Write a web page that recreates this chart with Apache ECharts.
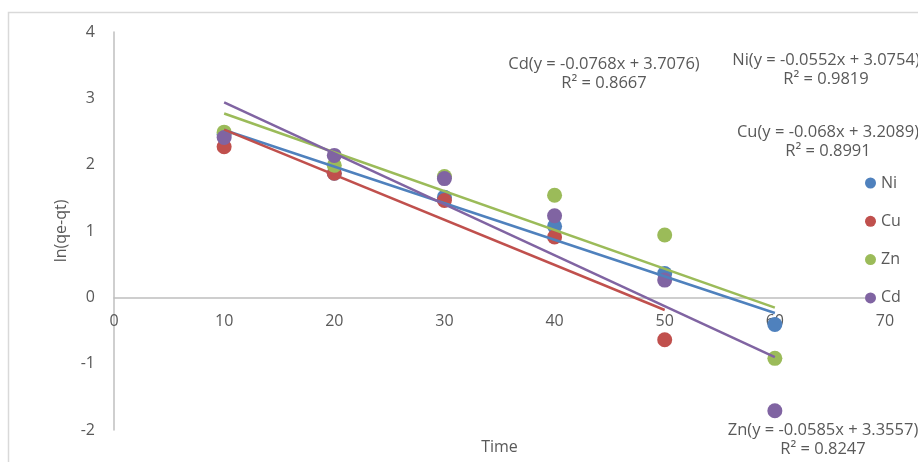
<!DOCTYPE html>
<html>
<head>
<meta charset="utf-8">
<script src="https://cdn.jsdelivr.net/npm/echarts@6/dist/echarts.min.js"></script>
<style>
  html, body { margin: 0; padding: 0; background: #fff; }
  #chart { width: 918px; height: 462px; }
</style>
</head>
<body>
<div id="chart"></div>
<script>
// ---- data ----
const seriesNames = ['Ni', 'Cu', 'Zn', 'Cd'];
const timeValues = [10, 20, 30, 40, 50, 60];
const niValues = [2.46, 1.87, 1.51, 1.07, 0.36, -0.41];
const cuValues = [2.27, 1.87, 1.46, 0.91, -0.64];
const znValues = [2.49, 1.99, 1.82, 1.54, 0.94, -0.92];
const cdValues = [2.41, 2.14, 1.79, 1.23, 0.26, -1.71];
// trendline equations (as printed on the chart)
const trendSlopes = [-0.0552, -0.068, -0.0585, -0.0768];
const trendIntercepts = [3.0754, 3.2089, 3.3557, 3.7076];
const trendR2 = ['0.9819', '0.8991', '0.8247', '0.8667'];
const trendStartX = [10, 10, 10, 10];
const trendEndX = [60, 50, 60, 60];
const xTicks = [0, 10, 20, 30, 40, 50, 60, 70];
const yTicks = [-2, -1, 0, 1, 2, 3, 4];

// ---- styling ----
const colors = ['#4F81BD', '#C0504D', '#9BBB59', '#8064A2'];
const textColor = '#595959';
const font = '"Open Sans", "Noto Sans", sans-serif';
const allValues = [niValues, cuValues, znValues, cdValues];

const gridTop = 32, gridBottom = 32, chartH = 462;
const yMin = yTicks[0], yMax = yTicks[yTicks.length - 1];
// move the x axis (line, labels, name) up to y = 0, like Excel's crossing axis
const plotH = chartH - gridTop - gridBottom;
const xAxisOffset = -plotH * (0 - yMin) / (yMax - yMin);

const scatterSeries = seriesNames.map((n, i) => ({
  name: n,
  type: 'scatter',
  symbol: 'circle',
  symbolSize: 15,
  itemStyle: { color: colors[i], opacity: 1 },
  data: allValues[i].map((v, j) => [timeValues[j], v]),
  z: 2
}));

const trendSeries = seriesNames.map((n, i) => ({
  name: n + ' trend',
  type: 'line',
  showSymbol: false,
  symbol: 'none',
  lineStyle: { color: colors[i], width: 2.5 },
  data: [trendStartX[i], trendEndX[i]].map(x => [x, trendSlopes[i] * x + trendIntercepts[i]]),
  z: 3,
  silent: true
}));

// label placements (center x, first-line y)
const labelPos = {
  Ni: [826, 60],
  Cu: [828, 132],
  Zn: [823, 430],
  Cd: [604, 64]
};
const annotationGraphics = [];
seriesNames.forEach((n, i) => {
  const p = labelPos[n];
  annotationGraphics.push({
    type: 'text', x: p[0], y: p[1], silent: true,
    style: {
      text: n + '(y = ' + trendSlopes[i] + 'x + ' + trendIntercepts[i] + ')',
      fill: textColor, fontSize: 16.5, fontFamily: font,
      align: 'center', verticalAlign: 'middle'
    }
  });
  annotationGraphics.push({
    type: 'text', x: p[0], y: p[1] + 19, silent: true,
    style: {
      text: 'R\u00B2 = ' + trendR2[i],
      fill: textColor, fontSize: 16.5, fontFamily: font,
      align: 'center', verticalAlign: 'middle'
    }
  });
});

const chart = echarts.init(document.getElementById('chart'), null, { renderer: 'canvas' });
chart.setOption({
  animation: false,
  backgroundColor: '#fff',
  textStyle: { fontFamily: font },
  grid: { left: 114, right: 33, top: gridTop, bottom: gridBottom, containLabel: false, outerBoundsMode: 'none' },
  xAxis: {
    type: 'value',
    min: xTicks[0], max: xTicks[xTicks.length - 1], interval: 10,
    offset: xAxisOffset,
    name: 'Time', nameLocation: 'middle', nameGap: 142,
    nameTextStyle: { color: textColor, fontSize: 16, fontFamily: font },
    axisLine: { show: true, onZero: false, lineStyle: { color: '#BFBFBF', width: 1.5 } },
    axisTick: { show: false },
    splitLine: { show: false },
    axisLabel: { color: textColor, fontSize: 16, fontFamily: font, margin: 16, hideOverlap: false }
  },
  yAxis: {
    type: 'value',
    min: yMin, max: yMax, interval: 1,
    name: 'ln(qe-qt)', nameLocation: 'middle', nameGap: 45, nameRotate: 90,
    nameTextStyle: { color: textColor, fontSize: 16, fontFamily: font },
    axisLine: { show: true, onZero: false, lineStyle: { color: '#BFBFBF', width: 1.5 } },
    axisTick: { show: false },
    splitLine: { show: false },
    axisLabel: { color: textColor, fontSize: 16, fontFamily: font, margin: 19 }
  },
  legend: {
    data: seriesNames,
    orient: 'vertical',
    left: 865, top: 175,
    padding: 0,
    icon: 'circle',
    itemWidth: 11, itemHeight: 11,
    itemGap: 22.3,
    backgroundColor: '#fff',
    textStyle: { color: textColor, fontSize: 16, fontFamily: font, lineHeight: 15 }
  },
  graphic: [
    {
      type: 'rect', silent: true, z: -10,
      shape: { x: 8.5, y: 12.5, width: 940, height: 480 },
      style: { fill: 'none', stroke: '#D9D9D9', lineWidth: 1.5 }
    }
  ].concat(annotationGraphics),
  series: scatterSeries.concat(trendSeries)
});
</script>
</body>
</html>
